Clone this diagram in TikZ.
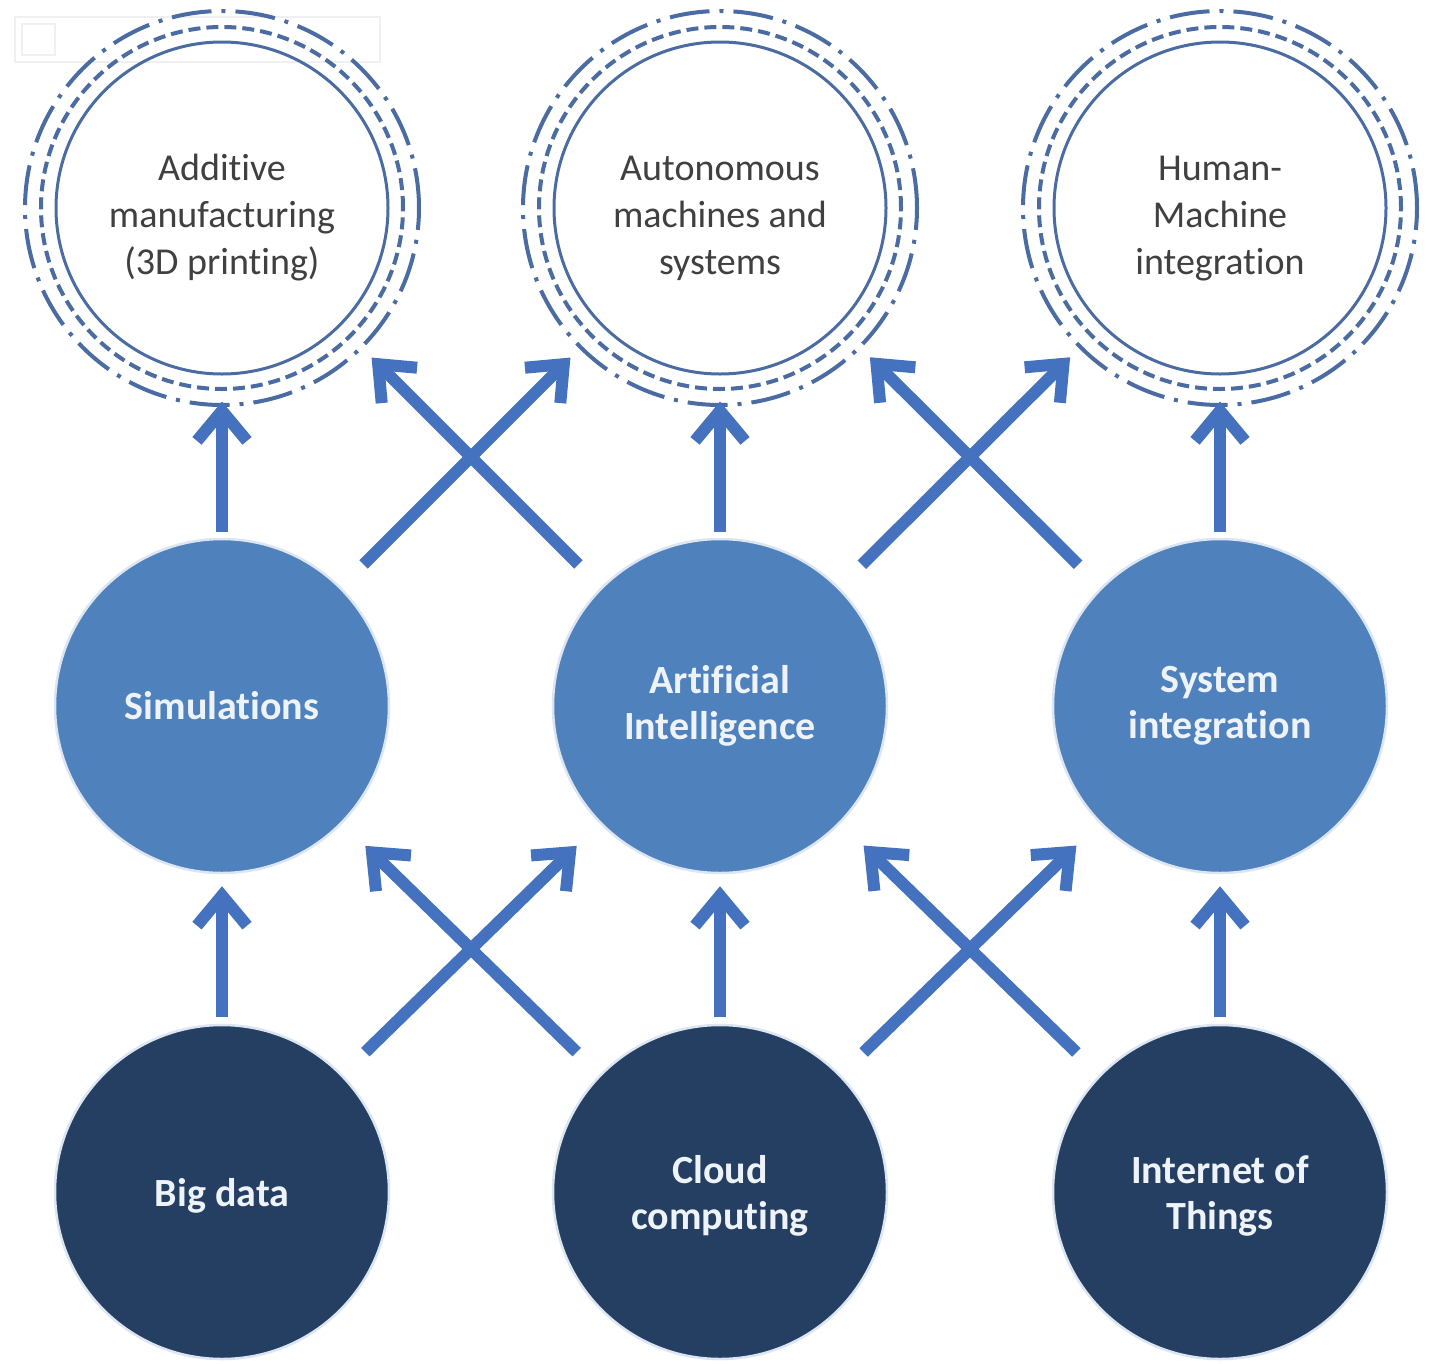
\documentclass[tikz,border=0pt]{standalone}
\usepackage{fontspec}
\setmainfont{Carlito}[Ligatures=NoCommon]
\usetikzlibrary{arrows.meta}
\definecolor{ringc}{HTML}{4A6CA2}
\definecolor{midblue}{HTML}{4F81BD}
\definecolor{darkblue}{HTML}{243F62}
\definecolor{arrowc}{HTML}{4472BE}
\definecolor{toptext}{HTML}{404040}
\definecolor{lighttext}{HTML}{EEF3FA}
\definecolor{rimc}{HTML}{DCE6F2}
\newcommand{\topstrut}{\rule{0pt}{46pt}}
\newcommand{\botstrut}{\rule{0pt}{36pt}}
\tikzset{
  topc/.style={circle, minimum size=332pt, inner sep=0pt, draw=ringc, line width=3pt,
    align=center, text=toptext, font=\fontsize{38}{47}\selectfont},
  dashring/.style={draw=ringc, line width=4pt, dash pattern=on 12pt off 6pt},
  dotring/.style={draw=ringc, line width=4pt, dash pattern=on 40pt off 10pt on 4pt off 10pt},
  midc/.style={circle, minimum size=334pt, inner sep=0pt, fill=midblue, draw=rimc, line width=2.5pt,
    align=center, text=lighttext, font=\fontsize{40}{46}\selectfont\bfseries},
  botc/.style={midc, fill=darkblue},
  arr/.style={draw=arrowc, line width=12pt, -{Straight Barb[length=30pt,width=50pt]}},
  vtop/.style={arr, shorten <=6pt, shorten >=26pt},
  dtop/.style={arr, shorten <=32pt, shorten >=44pt},
  vmid/.style={arr, shorten <=7pt, shorten >=12pt},
  dmid/.style={arr, shorten <=32pt, shorten >=32pt},
}
\begin{document}
\begin{tikzpicture}[x=1pt, y=-1pt]
\useasboundingbox (0,0) rectangle (1440,1363);
\fill[white] (0,0) rectangle (1440,1363);
% faint watermark box
\draw[black!6, line width=1.5pt] (15,17) rectangle (380,62);
\draw[black!6, line width=1.5pt] (22,24) rectangle (55,55);

% top row
\node[topc] (am)  at (222,208)  {\topstrut Additive\\manufacturing\\(3D printing)};
\node[topc] (ams) at (720,208)  {\topstrut Autonomous\\machines and\\systems};
\node[topc] (hmi) at (1220,208) {\topstrut Human-\\Machine\\integration};
\foreach \n in {am,ams,hmi}{
  \draw[dashring] (\n.center) circle (181pt);
  \draw[dotring] (\n.center) circle (197pt);
}

% middle row
\node[midc] (sim) at (222,706)  {Simulations};
\node[midc] (ai)  at (720,706)  {Artificial\\Intelligence};
\node[midc] (si)  at (1220,706) {System\\integration};

% bottom row
\node[botc] (bd)  at (222,1192)  {\botstrut Big data};
\node[botc] (cc)  at (720,1192)  {\botstrut Cloud\\computing};
\node[botc] (iot) at (1220,1192) {\botstrut Internet of\\Things};

% arrows middle -> top
\draw[vtop] (sim) -- (am);
\draw[vtop] (ai) -- (ams);
\draw[vtop] (si) -- (hmi);
\draw[dtop] (sim) -- (ams);
\draw[dtop] (ai) -- (am);
\draw[dtop] (ai) -- (hmi);
\draw[dtop] (si) -- (ams);

% arrows bottom -> middle
\draw[vmid] (bd) -- (sim);
\draw[vmid] (cc) -- (ai);
\draw[vmid] (iot) -- (si);
\draw[dmid] (bd) -- (ai);
\draw[dmid] (cc) -- (sim);
\draw[dmid] (cc) -- (si);
\draw[dmid] (iot) -- (ai);
\end{tikzpicture}
\end{document}
